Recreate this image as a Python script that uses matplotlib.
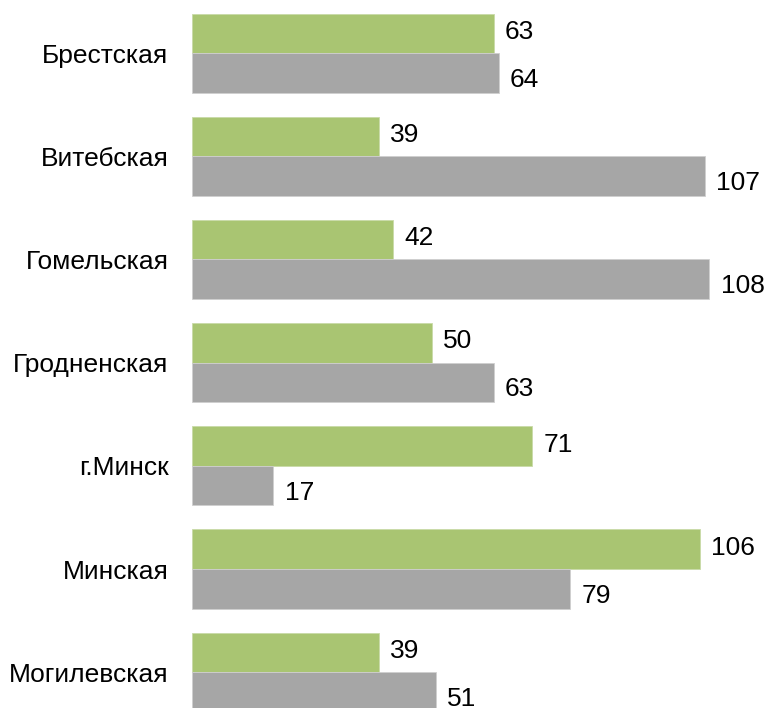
import numpy as np
import matplotlib.pyplot as plt

plt.rcParams['font.family'] = ['Liberation Sans', 'DejaVu Sans']

# --- данные ---
regions = ["Брестская", "Витебская", "Гомельская", "Гродненская",
           "г.Минск", "Минская", "Могилевская"]
green_vals = [63, 39, 42, 50, 71, 106, 39]
gray_vals = [64, 107, 108, 63, 17, 79, 51]

GREEN = "#A9C572"
GRAY = "#A6A6A6"
BAR_H = 0.383

fig = plt.figure(figsize=(7.65, 7.08), dpi=100)
ax = fig.add_axes([192 / 765, 0, 1 - 192 / 765, 1])

y = np.arange(len(regions))
ax.barh(y - BAR_H / 2, green_vals, height=BAR_H, color=GREEN,
        edgecolor="#C9DAA8", linewidth=0.6)
ax.barh(y + BAR_H / 2, gray_vals, height=BAR_H, color=GRAY,
        edgecolor="#CFCFCF", linewidth=0.6)

# подписи значений
for yi, v in zip(y, green_vals):
    ax.annotate(str(v), (v, yi - BAR_H / 2), xytext=(8, 1),
                textcoords="offset points", va="center", ha="left",
                fontsize=19, color="black")
for yi, v in zip(y, gray_vals):
    ax.annotate(str(v), (v, yi + BAR_H / 2), xytext=(8, -5),
                textcoords="offset points", va="center", ha="left",
                fontsize=19, color="black")

ax.set_yticks(y)
ax.set_yticklabels(regions, fontsize=19)
ax.tick_params(axis="y", length=0, pad=17)
ax.set_xticks([])
ax.set_xlim(0, 119.6)
ax.set_ylim(6.347, -0.514)
for s in ax.spines.values():
    s.set_visible(False)

fig.savefig("out.png", dpi=100)
